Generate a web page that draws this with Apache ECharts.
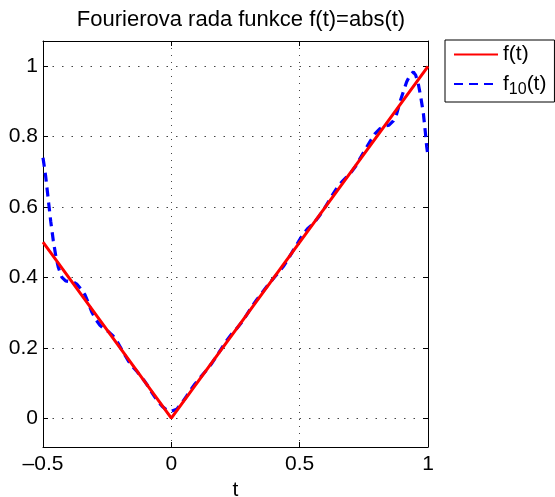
<!DOCTYPE html>
<html>
<head>
<meta charset="utf-8">
<script src="https://cdn.jsdelivr.net/npm/echarts@6/dist/echarts.min.js"></script>
<style>html,body{margin:0;padding:0;background:#fff;}#c{width:555px;height:497px;}</style>
</head>
<body>
<div id="c"></div>
<script>
// f(t) = abs(t) breakpoints
const fX = [-0.5, 0, 1];
const fY = [0.5, 0, 1];
// f10(t): values
const f10X = [-0.500,-0.495,-0.490,-0.480,-0.470,-0.460,-0.450,-0.440,-0.427,-0.412,-0.397,-0.382,-0.367,-0.352,-0.336,-0.322,-0.310,-0.294,-0.278,-0.262,-0.245,-0.227,-0.210,-0.195,-0.180,-0.165,-0.149,-0.133,-0.118,-0.103,-0.088,-0.075,-0.064,-0.050,-0.035,-0.018,0.000,0.021,0.040,0.060,0.075,0.092,0.110,0.125,0.138,0.155,0.177,0.197,0.216,0.235,0.255,0.275,0.293,0.312,0.332,0.355,0.378,0.400,0.420,0.436,0.455,0.475,0.495,0.514,0.533,0.553,0.572,0.592,0.612,0.631,0.650,0.670,0.686,0.702,0.718,0.735,0.755,0.774,0.793,0.813,0.830,0.848,0.865,0.878,0.891,0.904,0.917,0.930,0.943,0.952,0.962,0.972,0.982,0.990,0.995,1.000];
const f10Y = [0.740,0.715,0.690,0.625,0.560,0.505,0.460,0.428,0.401,0.390,0.388,0.387,0.380,0.367,0.350,0.325,0.302,0.280,0.264,0.254,0.246,0.234,0.216,0.197,0.178,0.160,0.145,0.132,0.118,0.104,0.088,0.072,0.060,0.046,0.033,0.023,0.020,0.025,0.042,0.063,0.080,0.097,0.113,0.126,0.137,0.153,0.177,0.200,0.221,0.239,0.255,0.273,0.293,0.315,0.336,0.358,0.380,0.399,0.416,0.431,0.452,0.477,0.501,0.524,0.540,0.553,0.570,0.591,0.615,0.638,0.660,0.676,0.688,0.700,0.716,0.738,0.763,0.786,0.808,0.823,0.830,0.833,0.845,0.865,0.899,0.928,0.956,0.975,0.984,0.975,0.951,0.912,0.866,0.810,0.771,0.745];
const xTicks = [-0.5, 0, 0.5, 1];
const yTicks = [0, 0.2, 0.4, 0.6, 0.8, 1];

const FONT = 'Liberation Sans';
const chart = echarts.init(document.getElementById('c'), null, {renderer: 'canvas'});

function fmt(v) {
  const s = String(Math.round(v * 10) / 10);
  return s.replace('-', '\u2013');
}

const option = {
  animation: false,
  backgroundColor: '#fff',
  title: {
    text: 'Fourierova rada funkce f(t)=abs(t)',
    left: 236, top: 4, textAlign: 'center',
    textStyle: {fontFamily: FONT, fontSize: 22, fontWeight: 'normal', color: '#000'}
  },
  legend: {
    left: 445, top: 40, orient: 'vertical',
    borderColor: '#000', borderWidth: 1, borderRadius: 0,
    padding: [4, 8, 4, 8], itemGap: 5,
    itemWidth: 44, itemHeight: 14,
    itemStyle: {color: 'rgba(0,0,0,0)', borderWidth: 0, opacity: 0},
    data: ['f(t)', 'f10(t)'],
    formatter: function (name) {
      return name === 'f(t)' ? '{a|f(t)}' : '{a|f}{s|10}{a|(t)}';
    },
    textStyle: {
      fontFamily: FONT, fontSize: 21, color: '#000',
      rich: {
        a: {fontFamily: FONT, fontSize: 21, color: '#000', lineHeight: 30},
        s: {fontFamily: FONT, fontSize: 16, color: '#000', lineHeight: 30, padding: [12, 0, 0, 0]}
      }
    }
  },
  grid: {left: 43, top: 41, width: 385, height: 406, show: false, containLabel: false, outerBoundsMode: 'none'},
  xAxis: [{
    type: 'value', min: -0.5, max: 1, interval: 0.5,
    name: 't', nameLocation: 'middle', nameGap: 33,
    nameTextStyle: {fontFamily: FONT, fontSize: 21, color: '#000'},
    axisLine: {show: true, onZero: false, lineStyle: {color: '#000', width: 1}},
    axisTick: {show: true, inside: true, length: 5, lineStyle: {color: '#000'}},
    axisLabel: {fontFamily: FONT, fontSize: 21, color: '#000', margin: 7, formatter: fmt},
    splitLine: {show: true, lineStyle: {color: '#444', width: 1, type: [1, 6]}}
  }, {
    type: 'value', min: -0.5, max: 1, interval: 0.5, position: 'top',
    axisLine: {show: true, onZero: false, lineStyle: {color: '#000', width: 1}},
    axisTick: {show: true, inside: true, length: 5, lineStyle: {color: '#000'}},
    axisLabel: {show: false}, splitLine: {show: false}
  }],
  yAxis: [{
    type: 'value', min: -0.082, max: 1.072,
    axisLine: {show: true, onZero: false, lineStyle: {color: '#000', width: 1}},
    axisTick: {show: true, inside: true, length: 5, lineStyle: {color: '#000'}},
    axisLabel: {fontFamily: FONT, fontSize: 21, color: '#000', margin: 5,
      showMinLabel: false, showMaxLabel: false,
      formatter: function (v) { return yTicks.some(t => Math.abs(t - v) < 1e-6) ? fmt(v) : ''; }},
    splitLine: {show: true, lineStyle: {color: '#444', width: 1, type: [1.5, 8]}}
  }, {
    type: 'value', min: -0.082, max: 1.072, position: 'right',
    axisLine: {show: true, onZero: false, lineStyle: {color: '#000', width: 1}},
    axisTick: {show: true, inside: true, length: 5, lineStyle: {color: '#000'}},
    axisLabel: {show: false}, splitLine: {show: false}
  }],
  series: [{
    name: 'f10(t)', type: 'line', symbol: 'none', z: 2,
    data: f10X.map((x, i) => [x, f10Y[i]]),
    lineStyle: {color: '#0000ff', width: 3.2, type: [9, 6]},
    itemStyle: {color: '#0000ff'}
  }, {
    name: 'f(t)', type: 'line', symbol: 'none', z: 3,
    data: fX.map((x, i) => [x, fY[i]]),
    lineStyle: {color: '#ff0000', width: 3},
    itemStyle: {color: '#ff0000'}
  }]
};
chart.setOption(option);
</script>
</body>
</html>
